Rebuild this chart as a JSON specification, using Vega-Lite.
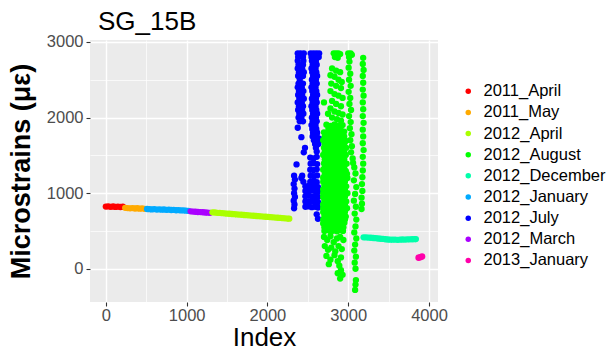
{
  "$schema": "https://vega.github.io/schema/vega-lite/v6.json",
  "width": 348,
  "height": 262,
  "autosize": "none",
  "padding": {"left": 90, "top": 40, "right": 168, "bottom": 52},
  "background": "white",
  "title": {"text": "SG_15B", "anchor": "start", "frame": "group", "fontSize": 26, "font": "Liberation Sans", "fontWeight": "normal", "color": "black", "baseline": "alphabetic", "offset": 8, "dx": 8, "dy": 30},
  "config": {
    "view": {"fill": "#EBEBEB", "stroke": null},
    "circle": {"size": 40, "opacity": 1},
    "range": {"category": ["#FF0000", "#FFAA00", "#AAFF00", "#00FF00", "#00FFAA", "#00AAFF", "#0000FF", "#AA00FF", "#FF00AA"]},
    "axis": {
      "domain": false,
      "gridColor": "white",
      "gridWidth": {"condition": {"test": "datum.value % 1000 === 0", "value": 1.4}, "value": 0.7},
      "tickColor": "#333333",
      "tickSize": 4,
      "tickWidth": 1.1,
      "tickOpacity": {"condition": {"test": "datum.value % 1000 === 0", "value": 1}, "value": 0},
      "labelFont": "Liberation Sans",
      "labelFontSize": 16.5,
      "labelColor": "#4D4D4D",
      "labelExpr": "datum.value % 1000 === 0 ? datum.label : ''",
      "format": "d",
      "titleFont": "Liberation Sans",
      "titleColor": "black"
    },
    "legend": {
      "orient": "none",
      "padding": 0,
      "labelFont": "Liberation Sans",
      "labelFontSize": 16.5,
      "labelColor": "black",
      "rowPadding": 4.15
    }
  },
  "datasets": {
    "apr11": [{"i":0,"v":822},{"i":30,"v":825},{"i":60,"v":819},{"i":90,"v":823},{"i":120,"v":818},{"i":150,"v":821},{"i":180,"v":817},{"i":210,"v":820}],
    "may11": [{"i":240,"v":806},{"i":270,"v":802},{"i":300,"v":799},{"i":330,"v":803},{"i":360,"v":797},{"i":390,"v":800},{"i":420,"v":795},{"i":450,"v":798},{"i":480,"v":793}],
    "jan12": [{"i":510,"v":790},{"i":540,"v":788},{"i":570,"v":785},{"i":600,"v":789},{"i":630,"v":783},{"i":660,"v":786},{"i":690,"v":781},{"i":720,"v":784},{"i":750,"v":779},{"i":780,"v":782},{"i":810,"v":777},{"i":840,"v":779},{"i":870,"v":774},{"i":900,"v":776},{"i":930,"v":771},{"i":960,"v":773},{"i":990,"v":768},{"i":1020,"v":766}],
    "mar12": [{"i":1050,"v":760},{"i":1080,"v":756},{"i":1110,"v":754},{"i":1140,"v":751},{"i":1170,"v":749},{"i":1200,"v":747},{"i":1230,"v":744},{"i":1260,"v":742},{"i":1290,"v":740}],
    "apr12": [{"i":1320,"v":746},{"i":1350,"v":744},{"i":1380,"v":740},{"i":1410,"v":738},{"i":1440,"v":735},{"i":1470,"v":733},{"i":1500,"v":729},{"i":1530,"v":727},{"i":1560,"v":724},{"i":1590,"v":722},{"i":1620,"v":719},{"i":1650,"v":716},{"i":1680,"v":714},{"i":1710,"v":711},{"i":1740,"v":709},{"i":1770,"v":706},{"i":1800,"v":703},{"i":1830,"v":701},{"i":1860,"v":698},{"i":1890,"v":696},{"i":1920,"v":693},{"i":1950,"v":690},{"i":1980,"v":688},{"i":2010,"v":685},{"i":2040,"v":682},{"i":2070,"v":680},{"i":2100,"v":677},{"i":2130,"v":675},{"i":2160,"v":672},{"i":2190,"v":669},{"i":2220,"v":667},{"i":2250,"v":664},{"i":2270,"v":662}],
    "jul12": [
      {"i":2375,"v":2850},{"i":2410,"v":2850},{"i":2450,"v":2850},{"i":2380,"v":2800},{"i":2440,"v":2800},{"i":2375,"v":2750},{"i":2445,"v":2750},{"i":2385,"v":2700},{"i":2440,"v":2700},{"i":2375,"v":2650},{"i":2430,"v":2650},{"i":2390,"v":2600},{"i":2450,"v":2600},{"i":2380,"v":2550},{"i":2440,"v":2550},{"i":2400,"v":2500},
      {"i":2385,"v":2450},{"i":2440,"v":2450},{"i":2375,"v":2400},{"i":2425,"v":2400},{"i":2390,"v":2350},{"i":2445,"v":2350},{"i":2380,"v":2300},{"i":2430,"v":2300},{"i":2395,"v":2250},{"i":2450,"v":2250},{"i":2375,"v":2200},{"i":2425,"v":2200},{"i":2390,"v":2150},{"i":2440,"v":2150},{"i":2380,"v":2100},{"i":2430,"v":2100},{"i":2395,"v":2050},{"i":2445,"v":2050},{"i":2385,"v":2000},{"i":2420,"v":2000},{"i":2400,"v":1950},{"i":2440,"v":1950},
      {"i":2375,"v":1865},{"i":2420,"v":1740},{"i":2465,"v":1600},{"i":2450,"v":1540},{"i":2360,"v":1380},
      {"i":2535,"v":2850},{"i":2570,"v":2850},{"i":2605,"v":2850},{"i":2640,"v":2850},{"i":2545,"v":2800},{"i":2590,"v":2800},{"i":2635,"v":2800},
      {"i":2550,"v":2750},{"i":2600,"v":2750},{"i":2560,"v":2700},{"i":2610,"v":2700},{"i":2545,"v":2650},{"i":2595,"v":2650},{"i":2555,"v":2600},{"i":2605,"v":2600},{"i":2565,"v":2550},{"i":2615,"v":2550},{"i":2550,"v":2500},{"i":2600,"v":2500},{"i":2560,"v":2450},{"i":2610,"v":2450},{"i":2545,"v":2400},{"i":2595,"v":2400},{"i":2555,"v":2350},{"i":2605,"v":2350},{"i":2565,"v":2300},{"i":2615,"v":2300},{"i":2550,"v":2250},{"i":2600,"v":2250},{"i":2560,"v":2200},{"i":2610,"v":2200},{"i":2545,"v":2150},{"i":2595,"v":2150},{"i":2555,"v":2100},{"i":2605,"v":2100},{"i":2565,"v":2050},{"i":2615,"v":2050},{"i":2550,"v":2000},{"i":2600,"v":2000},{"i":2560,"v":1950},{"i":2610,"v":1950},{"i":2545,"v":1900},{"i":2595,"v":1900},{"i":2555,"v":1850},{"i":2605,"v":1850},{"i":2565,"v":1800},{"i":2615,"v":1800},{"i":2560,"v":1750},{"i":2610,"v":1750},{"i":2575,"v":1700},{"i":2625,"v":1700},{"i":2590,"v":1650},{"i":2630,"v":1650},{"i":2600,"v":1600},{"i":2610,"v":1550},{"i":2640,"v":1720},
      {"i":2530,"v":1470},{"i":2570,"v":1460},{"i":2610,"v":1480},{"i":2535,"v":1390},{"i":2575,"v":1395},{"i":2615,"v":1385},{"i":2530,"v":1310},{"i":2570,"v":1305},{"i":2610,"v":1315},{"i":2535,"v":1230},{"i":2575,"v":1225},{"i":2615,"v":1235},{"i":2530,"v":1150},{"i":2570,"v":1155},{"i":2610,"v":1145},
      {"i":2330,"v":1230},{"i":2340,"v":1180},{"i":2325,"v":1120},{"i":2335,"v":1060},{"i":2330,"v":1000},{"i":2340,"v":950},{"i":2325,"v":900},{"i":2335,"v":850},{"i":2330,"v":800},
      {"i":2420,"v":1200},{"i":2445,"v":1150},{"i":2430,"v":1230},
      {"i":2470,"v":820},{"i":2510,"v":825},{"i":2550,"v":815},{"i":2590,"v":820},{"i":2625,"v":810},
      {"i":2470,"v":890},{"i":2510,"v":885},{"i":2550,"v":895},{"i":2590,"v":890},{"i":2625,"v":880},
      {"i":2470,"v":960},{"i":2510,"v":965},{"i":2550,"v":955},{"i":2590,"v":960},{"i":2625,"v":950},
      {"i":2470,"v":1030},{"i":2510,"v":1025},{"i":2550,"v":1035},{"i":2590,"v":1030},{"i":2625,"v":1020},
      {"i":2470,"v":1090},{"i":2510,"v":1095},{"i":2550,"v":1085},{"i":2590,"v":1090},{"i":2625,"v":1080},
      {"i":2610,"v":720},{"i":2625,"v":660}
    ],
    "aug12": [
      {"i":2820,"v":2850},{"i":2850,"v":2850},{"i":2880,"v":2850},{"i":2900,"v":2840},{"i":2835,"v":2800},{"i":2870,"v":2790},{"i":3000,"v":2850},{"i":3030,"v":2850},{"i":3045,"v":2830},{"i":3010,"v":2800},
      {"i":3015,"v":2740},{"i":3005,"v":2660},{"i":3025,"v":2580},{"i":3010,"v":2500},{"i":3030,"v":2420},{"i":3005,"v":2340},{"i":3025,"v":2260},{"i":3015,"v":2180},{"i":3035,"v":2100},{"i":3010,"v":2020},{"i":3030,"v":1940},{"i":3020,"v":1860},{"i":3040,"v":1780},{"i":3025,"v":1700},{"i":3045,"v":1620},{"i":3035,"v":1540},{"i":3055,"v":1460},
      {"i":3185,"v":2790},{"i":3180,"v":2710},{"i":3190,"v":2630},{"i":3180,"v":2550},{"i":3185,"v":2460},{"i":3180,"v":2370},{"i":3190,"v":2290},{"i":3180,"v":2200},{"i":3185,"v":2110},{"i":3180,"v":2020},{"i":3190,"v":1930},{"i":3180,"v":1840},{"i":3185,"v":1750},{"i":3180,"v":1660},{"i":3190,"v":1570},{"i":3180,"v":1480},{"i":3185,"v":1390},{"i":3180,"v":1300},{"i":3175,"v":1210},{"i":3170,"v":1120},{"i":3175,"v":1030},{"i":3165,"v":940},{"i":3170,"v":860},{"i":3165,"v":790},
      {"i":2800,"v":2650},{"i":2850,"v":2620},{"i":2900,"v":2600},{"i":2780,"v":2560},{"i":2830,"v":2540},{"i":2880,"v":2500},{"i":2920,"v":2470},{"i":2790,"v":2450},{"i":2850,"v":2420},{"i":2910,"v":2390},{"i":2780,"v":2350},{"i":2830,"v":2310},{"i":2880,"v":2290},{"i":2930,"v":2260},{"i":2800,"v":2220},{"i":2850,"v":2180},{"i":2910,"v":2150},{"i":2780,"v":2120},{"i":2830,"v":2080},{"i":2880,"v":2060},{"i":2930,"v":2040},{"i":2800,"v":2000},{"i":2860,"v":1980},{"i":2910,"v":1960},{"i":2700,"v":2200},{"i":2750,"v":2050},
      {"i":2730,"v":1905},{"i":2780,"v":1890},{"i":2830,"v":1910},{"i":2880,"v":1895},{"i":2930,"v":1900},
      {"i":2755,"v":1850},{"i":2805,"v":1855},{"i":2855,"v":1845},{"i":2905,"v":1850},
      {"i":2700,"v":1805},{"i":2750,"v":1790},{"i":2800,"v":1810},{"i":2850,"v":1800},{"i":2900,"v":1795},{"i":2950,"v":1815},
      {"i":2710,"v":1750},{"i":2750,"v":1755},{"i":2790,"v":1745},{"i":2830,"v":1750},{"i":2870,"v":1760},{"i":2910,"v":1740},{"i":2950,"v":1750},
      {"i":2690,"v":1700},{"i":2730,"v":1690},{"i":2770,"v":1710},{"i":2810,"v":1705},{"i":2850,"v":1695},{"i":2890,"v":1715},{"i":2930,"v":1700},{"i":2970,"v":1690},
      {"i":2710,"v":1650},{"i":2750,"v":1655},{"i":2790,"v":1645},{"i":2830,"v":1650},{"i":2870,"v":1660},{"i":2910,"v":1640},{"i":2950,"v":1650},
      {"i":2700,"v":1600},{"i":2740,"v":1615},{"i":2780,"v":1590},{"i":2820,"v":1605},{"i":2860,"v":1595},{"i":2900,"v":1610},{"i":2940,"v":1590},{"i":2975,"v":1600},
      {"i":2710,"v":1550},{"i":2750,"v":1555},{"i":2790,"v":1545},{"i":2830,"v":1550},{"i":2870,"v":1560},{"i":2910,"v":1540},{"i":2950,"v":1550},
      {"i":2690,"v":1505},{"i":2730,"v":1490},{"i":2770,"v":1510},{"i":2810,"v":1495},{"i":2850,"v":1515},{"i":2890,"v":1500},{"i":2930,"v":1485},{"i":2970,"v":1505},
      {"i":2710,"v":1450},{"i":2750,"v":1455},{"i":2790,"v":1445},{"i":2830,"v":1450},{"i":2870,"v":1460},{"i":2910,"v":1440},{"i":2950,"v":1450},
      {"i":2700,"v":1395},{"i":2740,"v":1410},{"i":2780,"v":1390},{"i":2820,"v":1405},{"i":2860,"v":1385},{"i":2900,"v":1415},{"i":2940,"v":1400},{"i":2980,"v":1390},
      {"i":2710,"v":1350},{"i":2750,"v":1355},{"i":2790,"v":1345},{"i":2830,"v":1350},{"i":2870,"v":1360},{"i":2910,"v":1340},{"i":2950,"v":1350},
      {"i":2690,"v":1310},{"i":2730,"v":1290},{"i":2770,"v":1305},{"i":2810,"v":1320},{"i":2850,"v":1285},{"i":2890,"v":1300},{"i":2930,"v":1315},{"i":2970,"v":1295},
      {"i":2710,"v":1250},{"i":2750,"v":1255},{"i":2790,"v":1245},{"i":2830,"v":1250},{"i":2870,"v":1260},{"i":2910,"v":1240},{"i":2950,"v":1250},{"i":2985,"v":1255},
      {"i":2690,"v":1205},{"i":2727,"v":1195},{"i":2765,"v":1210},{"i":2802,"v":1190},{"i":2840,"v":1200},{"i":2877,"v":1215},{"i":2915,"v":1195},{"i":2952,"v":1205},{"i":2990,"v":1200},
      {"i":2690,"v":1150},{"i":2725,"v":1155},{"i":2765,"v":1145},{"i":2805,"v":1150},{"i":2845,"v":1160},{"i":2880,"v":1140},{"i":2920,"v":1150},{"i":2960,"v":1155},
      {"i":2705,"v":1100},{"i":2745,"v":1110},{"i":2785,"v":1090},{"i":2820,"v":1105},{"i":2860,"v":1095},{"i":2895,"v":1110},{"i":2935,"v":1100},{"i":2975,"v":1090},
      {"i":2690,"v":1050},{"i":2725,"v":1055},{"i":2765,"v":1045},{"i":2805,"v":1050},{"i":2845,"v":1060},{"i":2880,"v":1040},{"i":2920,"v":1050},{"i":2960,"v":1055},
      {"i":2690,"v":1000},{"i":2727,"v":990},{"i":2765,"v":1010},{"i":2802,"v":995},{"i":2840,"v":1005},{"i":2877,"v":1000},{"i":2915,"v":990},{"i":2952,"v":1010},{"i":2990,"v":1000},
      {"i":2690,"v":950},{"i":2725,"v":955},{"i":2765,"v":945},{"i":2805,"v":950},{"i":2845,"v":960},{"i":2880,"v":940},{"i":2920,"v":950},{"i":2960,"v":955},
      {"i":2705,"v":900},{"i":2745,"v":910},{"i":2785,"v":890},{"i":2820,"v":905},{"i":2860,"v":895},{"i":2895,"v":910},{"i":2935,"v":900},{"i":2975,"v":890},
      {"i":2690,"v":850},{"i":2725,"v":855},{"i":2765,"v":845},{"i":2805,"v":850},{"i":2845,"v":860},{"i":2880,"v":840},{"i":2920,"v":850},{"i":2960,"v":855},
      {"i":2690,"v":800},{"i":2727,"v":795},{"i":2765,"v":810},{"i":2802,"v":790},{"i":2840,"v":805},{"i":2877,"v":800},{"i":2915,"v":795},{"i":2952,"v":810},{"i":2985,"v":800},
      {"i":2690,"v":750},{"i":2725,"v":755},{"i":2765,"v":745},{"i":2805,"v":750},{"i":2845,"v":760},{"i":2880,"v":740},{"i":2920,"v":750},{"i":2960,"v":755},
      {"i":2705,"v":700},{"i":2745,"v":710},{"i":2785,"v":690},{"i":2820,"v":705},{"i":2860,"v":695},{"i":2895,"v":710},{"i":2935,"v":700},{"i":2970,"v":690},
      {"i":2690,"v":650},{"i":2725,"v":655},{"i":2765,"v":645},{"i":2805,"v":650},{"i":2845,"v":660},{"i":2880,"v":640},{"i":2920,"v":650},{"i":2960,"v":655},
      {"i":2690,"v":600},{"i":2727,"v":590},{"i":2765,"v":610},{"i":2802,"v":595},{"i":2840,"v":605},{"i":2877,"v":600},{"i":2915,"v":590},{"i":2952,"v":610},
      {"i":2705,"v":550},{"i":2745,"v":555},{"i":2785,"v":545},{"i":2825,"v":550},{"i":2865,"v":560},{"i":2900,"v":540},{"i":2940,"v":550},
      {"i":2705,"v":500},{"i":2745,"v":510},{"i":2785,"v":490},{"i":2820,"v":505},{"i":2860,"v":495},{"i":2895,"v":510},{"i":2935,"v":500},
      {"i":2700,"v":420},{"i":2740,"v":380},{"i":2780,"v":430},{"i":2820,"v":350},{"i":2860,"v":400},{"i":2900,"v":420},{"i":2940,"v":380},{"i":2710,"v":300},{"i":2750,"v":250},{"i":2790,"v":280},{"i":2840,"v":230},{"i":2880,"v":300},{"i":2920,"v":260},{"i":2730,"v":170},{"i":2780,"v":120},{"i":2830,"v":180},{"i":2870,"v":100},{"i":2910,"v":150},{"i":2760,"v":60},{"i":2890,"v":40},{"i":2910,"v":-20},{"i":2930,"v":-80},{"i":2900,"v":-130},{"i":2870,"v":-60},
      {"i":3060,"v":1400},{"i":3075,"v":1340},{"i":3090,"v":1260},{"i":3070,"v":1170},{"i":3100,"v":1080},{"i":3085,"v":990},{"i":3070,"v":900},{"i":3095,"v":820},{"i":3080,"v":730},{"i":3100,"v":650},{"i":3090,"v":560},{"i":3075,"v":480},{"i":3100,"v":400},{"i":3085,"v":320},{"i":3075,"v":240},{"i":3095,"v":160},{"i":3080,"v":80},{"i":3090,"v":0},{"i":3095,"v":-150},{"i":3090,"v":-210},{"i":3085,"v":-280}
    ],
    "dec12": [{"i":3190,"v":415},{"i":3220,"v":414},{"i":3250,"v":412},{"i":3280,"v":410},{"i":3310,"v":407},{"i":3340,"v":404},{"i":3370,"v":400},{"i":3400,"v":397},{"i":3430,"v":394},{"i":3460,"v":390},{"i":3490,"v":387},{"i":3520,"v":385},{"i":3550,"v":384},{"i":3580,"v":386},{"i":3610,"v":383},{"i":3640,"v":385},{"i":3670,"v":387},{"i":3700,"v":386},{"i":3730,"v":388},{"i":3760,"v":389},{"i":3790,"v":390},{"i":3820,"v":391},{"i":3837,"v":392}],
    "jan13": [{"i":3870,"v":145},{"i":3885,"v":150},{"i":3900,"v":157},{"i":3915,"v":162}]
  },
  "encoding": {
    "x": {"field": "i", "type": "quantitative", "scale": {"domain": [-196, 4111], "nice": false, "zero": false},
          "axis": {"title": "Index", "values": [0, 500, 1000, 1500, 2000, 2500, 3000, 3500, 4000], "labelPadding": 1, "titleFontSize": 26, "titleFontWeight": "normal", "titlePadding": 1}},
    "y": {"field": "v", "type": "quantitative", "scale": {"domain": [-440, 3026], "nice": false, "zero": false},
          "axis": {"title": "Microstrains (με)", "values": [0, 500, 1000, 1500, 2000, 2500, 3000], "labelPadding": 3, "titleFontSize": 27, "titleFontWeight": "bold", "titlePadding": 11}}
  },
  "layer": [
    {"data": {"name": "apr11"}, "mark": "circle", "encoding": {"fill": {"datum": "2011_April", "type": "nominal", "scale": {"domain": ["2011_April", "2011_May", "2012_April", "2012_August", "2012_December", "2012_January", "2012_July", "2012_March", "2013_January"]}, "legend": {"title": null, "legendX": 370, "legendY": 43, "symbolType": "circle", "symbolSize": 30, "symbolStrokeWidth": 0, "labelOffset": 7}}}},
    {"data": {"name": "may11"}, "mark": "circle", "encoding": {"fill": {"datum": "2011_May", "type": "nominal"}}},
    {"data": {"name": "jan12"}, "mark": "circle", "encoding": {"fill": {"datum": "2012_January", "type": "nominal"}}},
    {"data": {"name": "mar12"}, "mark": "circle", "encoding": {"fill": {"datum": "2012_March", "type": "nominal"}}},
    {"data": {"name": "apr12"}, "mark": "circle", "encoding": {"fill": {"datum": "2012_April", "type": "nominal"}}},
    {"data": {"name": "jul12"}, "mark": "circle", "encoding": {"fill": {"datum": "2012_July", "type": "nominal"}}},
    {"data": {"name": "aug12"}, "mark": "circle", "encoding": {"fill": {"datum": "2012_August", "type": "nominal"}}},
    {"data": {"name": "dec12"}, "mark": "circle", "encoding": {"fill": {"datum": "2012_December", "type": "nominal"}}},
    {"data": {"name": "jan13"}, "mark": "circle", "encoding": {"fill": {"datum": "2013_January", "type": "nominal"}}}
  ]
}
